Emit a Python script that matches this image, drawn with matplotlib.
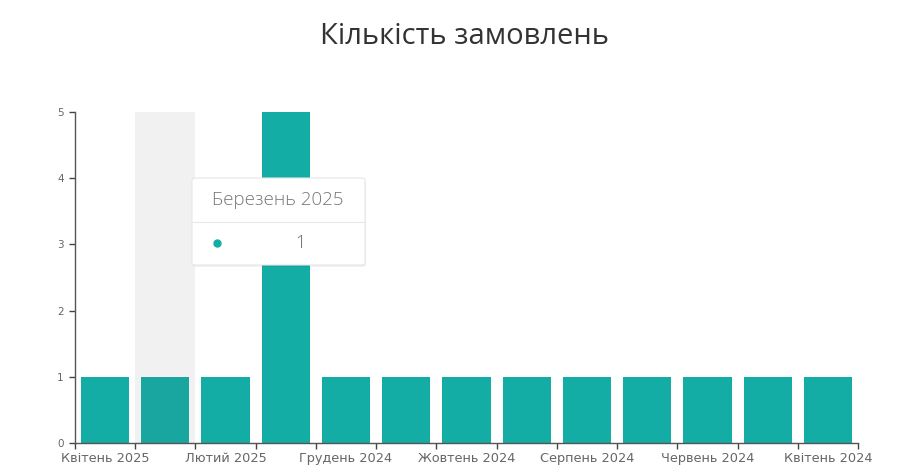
import numpy as np
import matplotlib.pyplot as plt
from matplotlib.patches import FancyBboxPatch

months = ["Квітень 2025", "Березень 2025", "Лютий 2025", "Січень 2025",
          "Грудень 2024", "Листопад 2024", "Жовтень 2024", "Вересень 2024",
          "Серпень 2024", "Липень 2024", "Червень 2024", "Травень 2024",
          "Квітень 2024"]
orders = [1, 1, 1, 5, 1, 1, 1, 1, 1, 1, 1, 1, 1]
active = 1  # hovered month

plt.rcParams['font.family'] = ['Open Sans', 'DejaVu Sans']

teal = '#13ada6'
fig = plt.figure(figsize=(9.18, 4.68), dpi=100)
ax = fig.add_axes([75/918, 1 - 443/468, (858 - 75)/918, (443 - 112)/468])

x = np.arange(len(months))
ax.axvspan(active - 0.5, active + 0.5, color='#f1f1f1', zorder=0, lw=0)
colors = [teal] * len(months)
colors[active] = '#1aa6a0'
ax.bar(x, orders, width=0.8, color=colors, zorder=2)

ax.set_xlim(-0.5, len(months) - 0.5)
ax.set_ylim(0, 5)

# ticks on band edges, labels on every other band
ax.set_xticks(np.arange(-0.5, len(months), 1.0))
ax.set_xticklabels([])
ax.set_xticks(x[::2], minor=True)
ax.set_xticklabels(months[::2], minor=True, family='DejaVu Sans')
ax.tick_params(axis='x', which='major', length=4, width=1, color='#444444')
ax.tick_params(axis='x', which='minor', length=0, pad=6.5, labelsize=9.3, labelcolor='#666666')
ax.set_yticks(range(6))
ax.set_yticklabels(range(6), family='DejaVu Sans')
ax.tick_params(axis='y', length=4, width=1, color='#444444', labelsize=7.5, labelcolor='#666666', pad=4)

for s in ['top', 'right']:
    ax.spines[s].set_visible(False)
for s in ['left', 'bottom']:
    ax.spines[s].set_color('#555555')
    ax.spines[s].set_linewidth(1)

fig.text(465/918, 1 - 37/468, "Кількість замовлень", ha='center', va='center',
         fontsize=21, color='#333333')

# tooltip
W, H = 918, 468
bx0, bx1, by0, by1 = 192, 365, 178, 265
shadow = FancyBboxPatch((bx0/W + 0.001, 1 - by1/H - 0.004), (bx1 - bx0)/W, (by1 - by0)/H,
                        boxstyle='round,pad=0,rounding_size=0.004', transform=fig.transFigure,
                        fc='#000000', alpha=0.06, ec='none', zorder=5)
fig.patches.append(shadow)
box = FancyBboxPatch((bx0/W, 1 - by1/H), (bx1 - bx0)/W, (by1 - by0)/H,
                     boxstyle='round,pad=0,rounding_size=0.004', transform=fig.transFigure,
                     fc='white', ec='#e6e6e6', lw=0.8, zorder=6)
fig.patches.append(box)
fig.add_artist(plt.Line2D([bx0/W, bx1/W], [1 - 222/H, 1 - 222/H],
                          transform=fig.transFigure, color='#e8e8e8', lw=0.8, zorder=7))
fig.text(278/W, 1 - 200/H, months[active], ha='center', va='center',
         fontsize=13.5, color='#777777', fontweight='light', zorder=8)
fig.add_artist(plt.Line2D([217/W], [1 - 243/H], marker='o', markersize=5,
                          color=teal, transform=fig.transFigure, zorder=8))
fig.text(300/W, 1 - 243/H, str(orders[active]), ha='center', va='center',
         fontsize=13, color='#666666', fontweight='light', zorder=8)

fig.savefig('out.png', dpi=100)
